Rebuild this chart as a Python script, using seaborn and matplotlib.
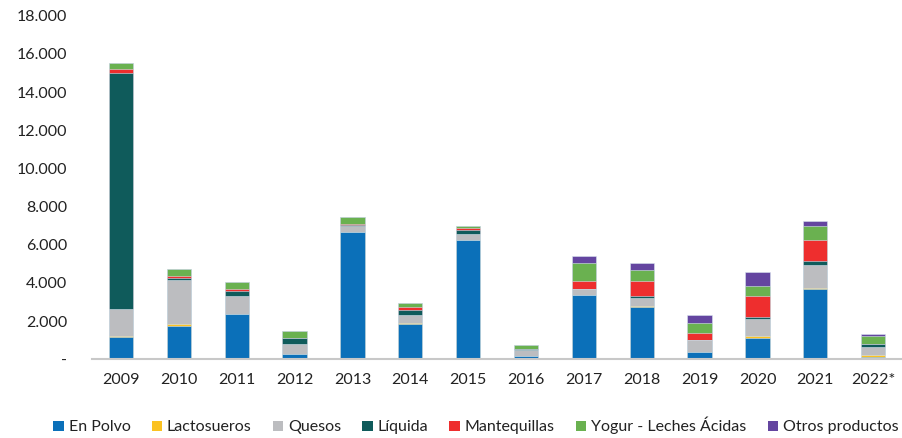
import matplotlib
matplotlib.use("Agg")
import matplotlib.pyplot as plt
import seaborn as sns
import numpy as np
import pandas as pd
from matplotlib.patches import Patch
from matplotlib.ticker import FuncFormatter

years = ["2009", "2010", "2011", "2012", "2013", "2014", "2015", "2016",
         "2017", "2018", "2019", "2020", "2021", "2022*"]
en_polvo     = [1170, 1745, 2360, 280, 6670, 1835, 6220, 155, 3380, 2740, 365, 1100, 3670, 105]
lactosueros  = [30, 90, 0, 0, 0, 85, 0, 0, 0, 70, 0, 105, 85, 105]
quesos       = [1450, 2305, 960, 540, 300, 385, 365, 300, 290, 400, 645, 905, 1205, 435]
liquida      = [12350, 90, 260, 300, 60, 265, 175, 55, 0, 90, 0, 90, 160, 175]
mantequillas = [200, 135, 90, 0, 40, 170, 105, 40, 430, 800, 370, 1100, 1115, 0]
yogur        = [300, 385, 365, 350, 365, 195, 105, 200, 945, 565, 540, 540, 735, 400]
otros        = [0, 0, 0, 0, 0, 0, 0, 0, 365, 380, 370, 735, 280, 90]

series_names = ["En Polvo", "Lactosueros", "Quesos", "Líquida", "Mantequillas",
                "Yogur - Leches Ácidas", "Otros productos"]
series_vals = [en_polvo, lactosueros, quesos, liquida, mantequillas, yogur, otros]
colors = ["#0B70B9", "#FBC222", "#BCBDC0", "#0F5B5B", "#EE2E2E", "#6AB150", "#6445A0"]

sns.set_theme(style="white")
plt.rcParams["font.family"] = ["Lato", "DejaVu Sans"]

fig = plt.figure(figsize=(9.03, 4.38), dpi=100)
ax = fig.add_axes([0.102, 0.180, 0.897, 0.784])

cum = np.cumsum(np.array(series_vals, dtype=float), axis=0)
for i in range(len(series_names) - 1, -1, -1):
    df = pd.DataFrame({"year": years, "value": cum[i]})
    sns.barplot(data=df, x="year", y="value", color=colors[i], width=0.42,
                saturation=1, edgecolor="#d8e4ef", linewidth=0.4, ax=ax, zorder=2 + (6 - i) * 0.01)

ax.set_ylim(0, 18000)
ax.set_yticks(np.arange(0, 18001, 2000))
ax.yaxis.set_major_formatter(FuncFormatter(
    lambda v, p: "-" if v == 0 else f"{int(v):,}".replace(",", ".")))
ax.set_xlabel("")
ax.set_ylabel("")
for s in ["top", "right", "left"]:
    ax.spines[s].set_visible(False)
ax.spines["bottom"].set_color("#c8c8c8")
ax.spines["bottom"].set_linewidth(1.5)
ax.tick_params(axis="both", length=0, labelsize=11.5, colors="#222222")
ax.tick_params(axis="y", pad=18)
ax.tick_params(axis="x", pad=10)
ax.grid(False)

handles = [Patch(facecolor=c, edgecolor="none", label=n) for n, c in zip(series_names, colors)]
fig.legend(handles=handles, loc="center", bbox_to_anchor=(0.527, 0.028), ncol=7,
           frameon=False, fontsize=11.5, handlelength=0.65, handleheight=0.65,
           handletextpad=0.3, columnspacing=1.33, labelcolor="#222222")

fig.savefig("out.png", dpi=100)
